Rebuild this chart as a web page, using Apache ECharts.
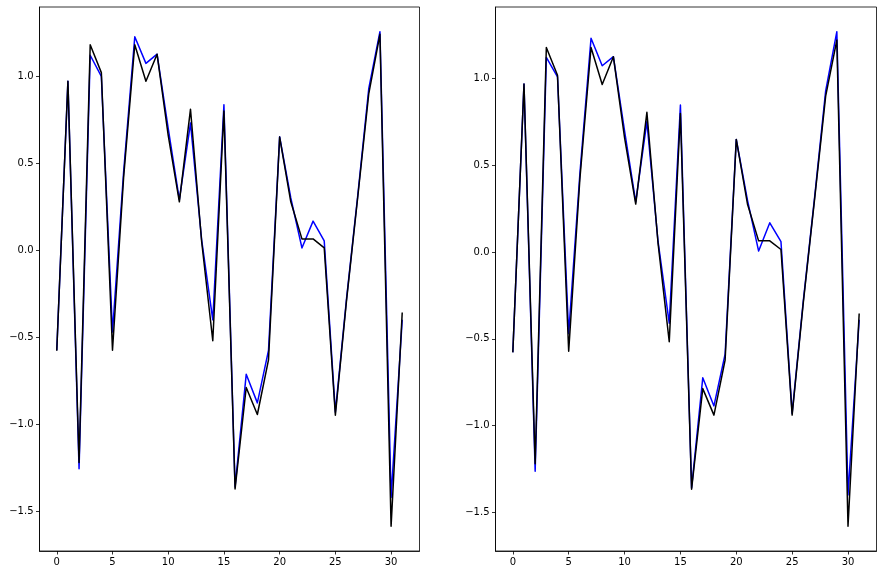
<!DOCTYPE html>
<html>
<head>
<meta charset="utf-8">
<script src="https://cdn.jsdelivr.net/npm/echarts@6/dist/echarts.min.js"></script>
<style>html,body{margin:0;padding:0;background:#fff;}#c{width:882px;height:575px;}</style>
</head>
<body>
<div id="c"></div>
<script>
var xIndex = [0,1,2,3,4,5,6,7,8,9,10,11,12,13,14,15,16,17,18,19,20,21,22,23,24,25,26,27,28,29,30,31];
var blackLeft = [-0.578,0.97,-1.22,1.18,1.02,-0.575,0.42,1.18,0.97,1.126,0.66,0.278,0.81,0.05,-0.52,0.80,-1.372,-0.789,-0.944,-0.63,0.65,0.278,0.065,0.065,0.013,-0.948,-0.29,0.30,0.90,1.24,-1.586,-0.358];
var blueLeft  = [-0.575,0.97,-1.255,1.12,0.998,-0.47,0.45,1.226,1.073,1.126,0.70,0.29,0.73,0.06,-0.40,0.835,-1.36,-0.713,-0.877,-0.575,0.651,0.30,0.013,0.167,0.053,-0.93,-0.28,0.31,0.93,1.255,-1.42,-0.40];
var blackRight = [-0.578,0.97,-1.22,1.18,1.02,-0.572,0.42,1.18,0.967,1.127,0.66,0.277,0.806,0.05,-0.517,0.80,-1.367,-0.787,-0.94,-0.623,0.65,0.278,0.065,0.065,0.015,-0.94,-0.29,0.30,0.90,1.223,-1.581,-0.354];
var blueRight  = [-0.577,0.97,-1.264,1.123,1.01,-0.47,0.45,1.233,1.075,1.127,0.70,0.29,0.752,0.06,-0.41,0.848,-1.36,-0.725,-0.887,-0.589,0.65,0.30,0.006,0.169,0.06,-0.93,-0.28,0.31,0.93,1.271,-1.40,-0.39];
var xTicks = [0,5,10,15,20,25,30];
var yTicks = [-1.5,-1.0,-0.5,0.0,0.5,1.0];

function pairs(vals){ return xIndex.map(function(x,i){ return [x, vals[i]]; }); }
function fmtY(v){ var s = Number(v).toFixed(1); return s.charAt(0)==='-' ? '\u2212'+s.slice(1) : s; }
function fmtX(v){ var s = String(Math.round(v)); return s.charAt(0)==='-' ? '\u2212'+s.slice(1) : s; }
function pad(lo, hi){ var r = hi - lo; return [lo - 0.05*r, hi + 0.05*r]; }
function rangeOf(a, b){ var all = a.concat(b); return pad(Math.min.apply(null, all), Math.max.apply(null, all)); }
var xr = pad(Math.min.apply(null,xIndex), Math.max.apply(null,xIndex));
var yrL = rangeOf(blackLeft, blueLeft);
var yrR = rangeOf(blackRight, blueRight);

var font = 'DejaVu Sans';
var axLine = {show:true, onZero:false, lineStyle:{color:'#000', width:0.8}};
function xAxis(gi){
  return {type:'value', gridIndex:gi, min:xr[0], max:xr[1], position:'bottom',
    axisLine:axLine, splitLine:{show:false},
    axisTick:{show:true, inside:false, customValues:xTicks, length:3.5, lineStyle:{color:'#000', width:0.8}},
    axisLabel:{customValues:xTicks, formatter:fmtX, color:'#000', fontFamily:font, fontSize:10, margin:6}};
}
function yAxis(gi, yr){
  return {type:'value', gridIndex:gi, min:yr[0], max:yr[1], position:'left',
    axisLine:axLine, splitLine:{show:false},
    axisTick:{show:true, inside:false, customValues:yTicks, length:3.5, lineStyle:{color:'#000', width:0.8}},
    axisLabel:{customValues:yTicks, formatter:fmtY, color:'#000', fontFamily:font, fontSize:10, margin:6}};
}
function line(gi, vals, color, z){
  return {type:'line', xAxisIndex:gi, yAxisIndex:gi, data:pairs(vals), showSymbol:false, symbol:'none',
    lineStyle:{color:color, width:1.5, join:'round'}, itemStyle:{color:color}, z:z, animation:false};
}
var chart = echarts.init(document.getElementById('c'), null, {renderer:'canvas'});
chart.setOption({
  animation:false,
  backgroundColor:'#fff',
  grid:[
    {left:39.5, top:7, width:380, height:544, show:true, borderColor:'#000', borderWidth:0.8, backgroundColor:'transparent'},
    {left:495.5, top:7, width:381, height:544, show:true, borderColor:'#000', borderWidth:0.8, backgroundColor:'transparent'}
  ],
  xAxis:[xAxis(0), xAxis(1)],
  yAxis:[yAxis(0, yrL), yAxis(1, yrR)],
  series:[
    line(0, blueLeft, '#0000ff', 2),
    line(0, blackLeft, '#000000', 3),
    line(1, blueRight, '#0000ff', 2),
    line(1, blackRight, '#000000', 3)
  ]
});
</script>
</body>
</html>
